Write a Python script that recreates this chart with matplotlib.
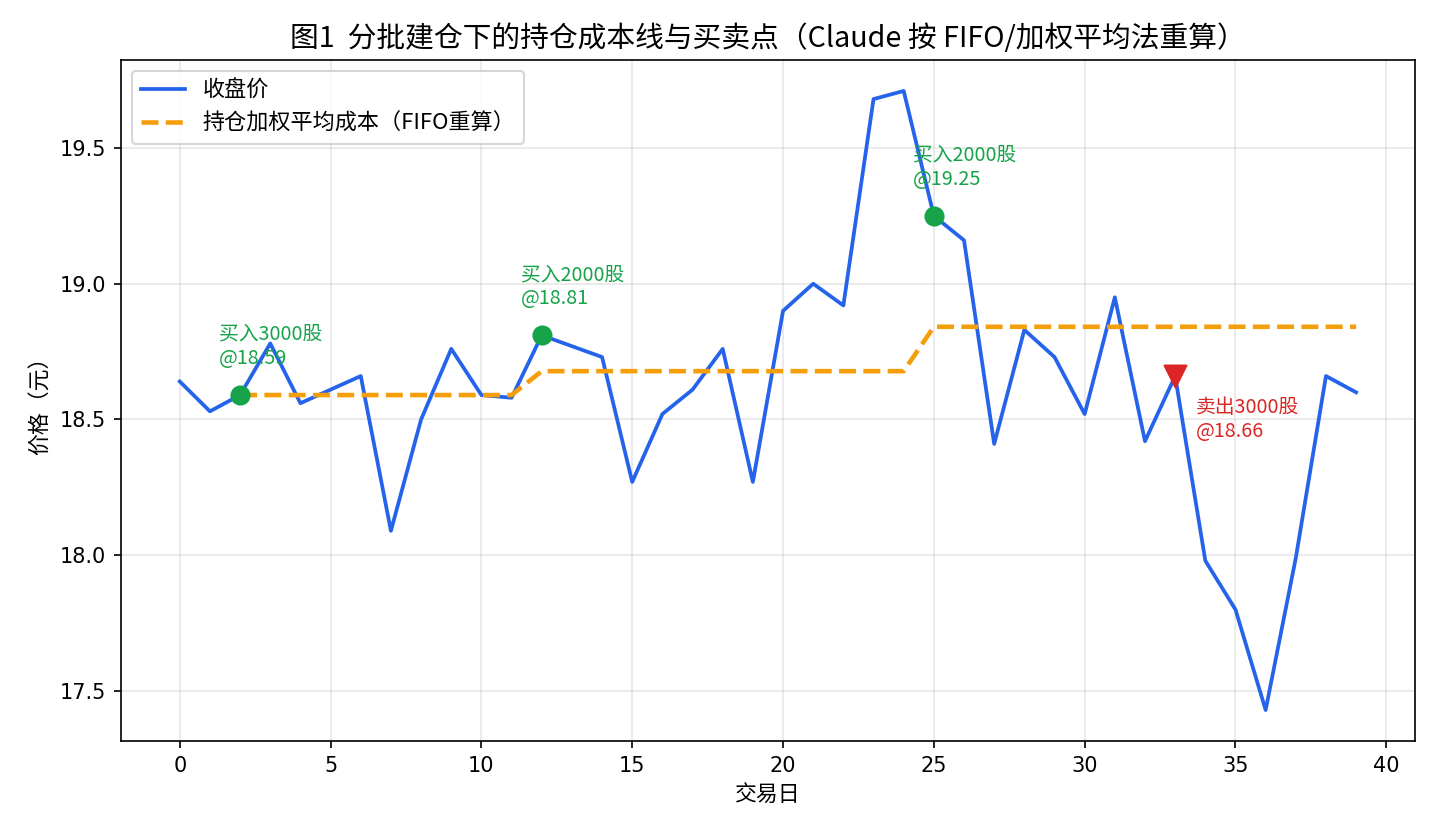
import numpy as np
import matplotlib
matplotlib.use("Agg")
import matplotlib.pyplot as plt

plt.rcParams['font.family'] = ['Noto Sans CJK SC', 'DejaVu Sans']
plt.rcParams['axes.unicode_minus'] = False

# closing prices for trading days 0..39
close = [18.64, 18.53, 18.59, 18.78, 18.56, 18.61, 18.66, 18.09, 18.50, 18.76,
         18.59, 18.58, 18.81, 18.77, 18.73, 18.27, 18.52, 18.61, 18.76, 18.27,
         18.90, 19.00, 18.92, 19.68, 19.71, 19.25, 19.16, 18.41, 18.83, 18.73,
         18.52, 18.95, 18.42, 18.66, 17.98, 17.80, 17.43, 17.99, 18.66, 18.60]
days = np.arange(len(close))

# trades: day, shares, price
buy_days = [2, 12, 25]
buy_shares = [3000, 2000, 2000]
buy_prices = [18.59, 18.81, 19.25]
sell_days = [33]
sell_shares = [3000]
sell_prices = [18.66]

# weighted average holding cost (unchanged on sells)
cost = np.full(len(close), np.nan)
tot_sh, tot_amt = 0, 0.0
for d in days:
    if d in buy_days:
        i = buy_days.index(d)
        tot_sh += buy_shares[i]
        tot_amt += buy_shares[i] * buy_prices[i]
    if tot_sh > 0:
        cost[d] = tot_amt / tot_sh

fig = plt.figure(figsize=(9.6, 832 / 150), dpi=150)
ax = fig.add_axes([0.084, 0.1094, 0.8986, 0.8185])

ax.plot(days, close, color='#2563eb', lw=1.8, label='收盘价')
ax.plot(days, cost, color='#f59e0b', lw=2.2, ls='--', label='持仓加权平均成本（FIFO重算）')

ax.scatter(buy_days, buy_prices, color='#16a34a', s=75, zorder=5)
ax.scatter(sell_days, sell_prices, color='#dc2626', marker='v', s=110, zorder=5)

for d, n, p in zip(buy_days, buy_shares, buy_prices):
    ax.annotate(f'买入{n}股\n@{p:.2f}', (d, p), xytext=(-10, 12.5),
                textcoords='offset points', color='#16a34a', fontsize=9.5,
                va='bottom', ha='left')
for d, n, p in zip(sell_days, sell_shares, sell_prices):
    ax.annotate(f'卖出{n}股\n@{p:.2f}', (d, p), xytext=(10, -10),
                textcoords='offset points', color='#dc2626', fontsize=9.5,
                va='top', ha='left')

ax.set_title('图1  分批建仓下的持仓成本线与买卖点（Claude 按 FIFO/加权平均法重算）', fontsize=13.8)
ax.set_xlabel('交易日', fontsize=10.5)
ax.set_ylabel('价格（元）', fontsize=10.5)
ax.grid(True, alpha=0.3)
for lab in ax.get_xticklabels() + ax.get_yticklabels():
    lab.set_fontfamily('DejaVu Sans')
ax.legend(loc='upper left', fontsize=10.6)

fig.savefig('out.png', dpi=150)
